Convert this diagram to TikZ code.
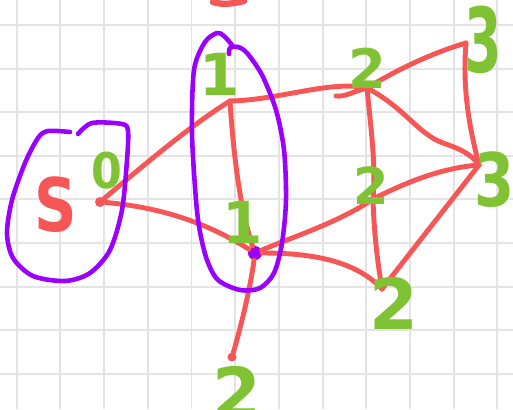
\documentclass[tikz,border=0pt]{standalone}
\usepackage{fontspec}
\newfontfamily\handfont{DejaVu Sans}
\definecolor{GridGray}{HTML}{E4E4E4}
\definecolor{EdgeRed}{HTML}{F75656}
\definecolor{LabelGreen}{HTML}{7FC334}
\definecolor{LoopPurple}{HTML}{9B00FF}
\tikzset{
  gridline/.style={draw=GridGray,line width=1.1pt},
  edge/.style={draw=EdgeRed,line width=2.8pt,line cap=round,line join=round},
  loop/.style={draw=LoopPurple,line width=2.6pt,line cap=round,line join=round},
  reddot/.style={circle,fill=EdgeRed,inner sep=0pt,minimum size=0.2cm},
  purpledot/.style={circle,fill=LoopPurple,inner sep=0pt,minimum size=0.28cm},
  lbl/.style={text=LabelGreen,inner sep=0pt,
    font=\handfont\bfseries\fontsize{#1}{#1}\selectfont},
  startlbl/.style={text=EdgeRed,inner sep=0pt,xscale=0.8,
    font=\handfont\bfseries\fontsize{42}{42}\selectfont},
}
\begin{document}
\begin{tikzpicture}[x=0.02cm,y=-0.02cm]
  \useasboundingbox (0,0) rectangle (513,409);
  % Grid
  \foreach \k in {0,...,11}
    \draw[gridline] ({16.7+43.7*\k},0) -- ({16.7+43.7*\k},409);
  \foreach \k in {0,...,8}
    \draw[gridline] (0,{25+43.6*\k}) -- (513,{25+43.6*\k});
  % Vertices
  \node[reddot] (s) at (100,202) {};
  \coordinate (a) at (230,101);
  \node[purpledot] (b) at (255,253) {};
  \coordinate (c) at (367,88);
  \coordinate (d) at (373,199);
  \coordinate (e) at (382,289);
  \node[reddot,minimum size=0.18cm] (f) at (232,357) {};
  \coordinate (g) at (466,43);
  \coordinate (h) at (479,165);
  % Edges
  \draw[edge] (s) .. controls (150,160) and (190,126) .. (a);
  \draw[edge] (s) .. controls (170,208) and (215,228) .. (b);
  \draw[edge] (a) .. controls (233,150) and (240,210) .. (b);
  \draw[edge] (a) .. controls (280,100) and (330,80) .. (c)
    .. controls (352,92) and (345,97) .. (336,96);
  \draw[edge] (c) .. controls (400,68) and (435,52) .. (g);
  \draw[edge] (g) .. controls (462,90) and (470,130) .. (h);
  \draw[edge] (c) .. controls (405,108) and (418,134) .. (443,143)
    .. controls (460,149) and (470,153) .. (h);
  \draw[edge] (c) .. controls (371,130) and (376,165) .. (d);
  \draw[edge] (d) .. controls (374,235) and (378,265) .. (e);
  \draw[edge] (b) .. controls (290,238) and (340,222) .. (d);
  \draw[edge] (d) .. controls (405,183) and (440,168) .. (h);
  \draw[edge] (b) .. controls (310,253) and (355,260) .. (e);
  \draw[edge] (e) -- (h);
  \draw[edge] (b) .. controls (250,290) and (240,330) .. (f);
  \draw[edge,line width=3.6pt] (213,2) .. controls (222,5) and (232,4) .. (244,1);
  % Loops
  \draw[loop] plot[smooth] coordinates {(70,132) (48,131) (38,138) (25,163)
    (12,200) (7,233) (13,258) (33,276) (65,281) (90,273) (110,250) (122,210)
    (127,160) (128,131) (122,124) (92,123) (78,134)};
  \draw[loop] plot[smooth] coordinates {(232,45) (224,36) (217,33) (205,42)
    (194,70) (192,133) (196,200) (200,232) (207,260) (218,280) (240,290)
    (260,288) (274,273) (282,243) (286,200) (284,150) (276,110) (262,75)
    (247,53) (238,47) (230,48) (229,54)};
  % Labels
  \node[startlbl] (sname) at (56,205) {S};
  \node[lbl=28,xscale=0.9] (l0) at (107,171) {0};
  \node[lbl=33] (l1a) at (220,74) {1};
  \node[lbl=33] (l1b) at (243,222) {1};
  \node[lbl=31] (l2c) at (367,68) {2};
  \node[lbl=29] (l2d) at (371,186) {2};
  \node[lbl=40] (l2e) at (394,303) {2};
  \node[lbl=40] (l2f) at (237,392) {2};
  \node[lbl=51,xscale=0.6] (l3g) at (483,40) {3};
  \node[lbl=42,xscale=0.78] (l3h) at (495,180) {3};
\end{tikzpicture}
\end{document}
